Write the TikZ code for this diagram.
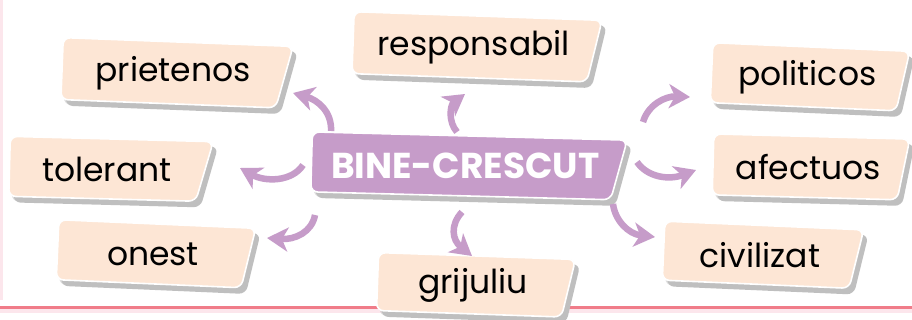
\documentclass[tikz,border=0pt]{standalone}
\usepackage{fontspec}
\setmainfont{Poppins}
\usetikzlibrary{arrows.meta}
\definecolor{peach}{HTML}{FDE6D5}
\definecolor{lilac}{HTML}{C69CC9}
\definecolor{pinkline}{HTML}{F07C89}
\definecolor{pinkfaint}{HTML}{FCE6EC}
\tikzset{
  peachbox/.style={fill=peach},
  lilacbox/.style={fill=lilac},
  peachtxt/.style={font=\fontsize{33}{36}\selectfont, text=black, inner sep=0pt},
  lilactxt/.style={font=\fontsize{36}{40}\selectfont\bfseries, text=white, inner sep=0pt},
  curvearrow/.style={draw=lilac, line width=6.5pt, -{Stealth[length=21pt,width=24pt,inset=6pt]}},
}
% #1 name, #2 cx, #3 cy, #4 w, #5 h, #6 slant, #7 rot, #8 kind, #9 text
\newcommand\tagbox[9]{%
  \begin{scope}[shift={(#2,#3)}, rotate=#7]
    \fill[black!22, opacity=0.6, rounded corners=7pt]
      ({-#4/2+3},{-#5/2+4}) -- ({#4/2+3},{-#5/2+4}) -- ({#4/2-#6+3},{#5/2+5}) -- ({-#4/2+3},{#5/2+5}) -- cycle;
    \fill[black!25, rounded corners=7pt]
      ({-#4/2+5},{-#5/2+5}) -- ({#4/2+5},{-#5/2+5}) -- ({#4/2-#6+5},{#5/2+6}) -- ({-#4/2+5},{#5/2+6}) -- cycle;
    \filldraw[#8box, draw=white, line width=1.6pt, rounded corners=7pt]
      ({-#4/2},{-#5/2}) -- ({#4/2},{-#5/2}) -- ({#4/2-#6},{#5/2}) -- ({-#4/2},{#5/2}) -- cycle;
  \end{scope}
  \node[#8txt] (#1) at ({#2-#6/4},#3) {#9};%
}
\begin{document}
\begin{tikzpicture}[x=1pt,y=-1pt]
\useasboundingbox (0,0) rectangle (912,320);
\fill[white] (0,0) rectangle (912,320);
% frame lines
\draw[pinkfaint, line width=2.5pt] (1.5,0) -- (1.5,300);
\draw[pinkfaint, line width=6pt] (0,310) -- (912,310);
\draw[pinkline, line width=3pt] (0,307) -- (912,307);
% boxes
\tagbox{prietenos}{177}{73}{230}{62}{15}{-2.2}{peach}{prietenos}
\tagbox{responsabil}{477}{47}{248}{62}{13}{-2.0}{peach}{responsabil}
\tagbox{politicos}{810}{77}{197}{60}{11}{-2.5}{peach}{politicos}
\tagbox{tolerant}{111}{169}{203}{60}{16}{-1.5}{peach}{tolerant}
\tagbox{afectuos}{811}{167}{196}{61}{11}{-1.5}{peach}{afectuos}
\tagbox{onest}{156}{254}{197}{60}{12}{-2.5}{peach}{onest}
\tagbox{grijuliu}{476}{285}{197}{58}{12}{-2.0}{peach}{grijuliu}
\tagbox{civilizat}{763}{255}{199}{59}{12}{-2.5}{peach}{civilizat}
\tagbox{center}{469}{166}{315}{60}{15}{-1.5}{lilac}{BINE-CRESCUT}
% arrow anchor points
\coordinate (s1) at (331,131); \coordinate (e1) at (293,93);
\coordinate (s2) at (303,165); \coordinate (e2) at (240,168);
\coordinate (s3) at (315,215); \coordinate (e3) at (267,238);
\coordinate (s4) at (457,132); \coordinate (e4) at (465,94);
\coordinate (s5) at (643,122); \coordinate (e5) at (690,97);
\coordinate (s6) at (637,162); \coordinate (e6) at (696,170);
\coordinate (s7) at (613,204); \coordinate (e7) at (655,237);
\coordinate (s8) at (462,212); \coordinate (e8) at (472,256);
\draw[curvearrow] (s1) .. controls (332,112) and (318,100) .. (e1);
\draw[curvearrow] (s2) .. controls (292,182) and (265,182) .. (e2);
\draw[curvearrow] (s3) .. controls (312,232) and (295,240) .. (e3);
\draw[curvearrow] (s4) .. controls (448,122) and (450,105) .. (e4);
\draw[curvearrow] (s5) .. controls (648,105) and (665,96) .. (e5);
\draw[curvearrow] (s6) .. controls (648,178) and (670,180) .. (e6);
\draw[curvearrow] (s7) .. controls (615,220) and (628,234) .. (e7);
\draw[curvearrow] (s8) .. controls (450,225) and (452,240) .. (e8);
\end{tikzpicture}
\end{document}
